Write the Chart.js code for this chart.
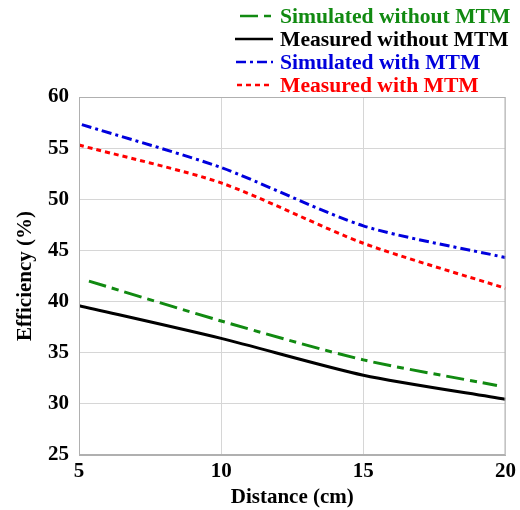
<!DOCTYPE html>
<html><head><meta charset="utf-8">
<script src="https://cdn.jsdelivr.net/npm/chart.js@4"></script>
<style>html,body{margin:0;padding:0;background:#fff}canvas{display:block}</style>
</head><body>
<canvas id="c" width="520" height="510"></canvas>
<script>
const seriesNames = ["Simulated without MTM","Measured without MTM","Simulated with MTM","Measured with MTM"];
const simNoX = [5.35, 10, 15, 19.7];
const simNoY = [42.0, 38.1, 34.3, 31.8];
const measNoX = [5, 10, 15, 20];
const measNoY = [39.6, 36.4, 32.8, 30.45];
const simMtmX = [5.1, 10, 15, 20];
const simMtmY = [57.3, 53.1, 47.4, 44.3];
const measMtmX = [5, 10, 15, 20];
const measMtmY = [55.3, 51.6, 45.7, 41.3];
const xTicks = [5, 10, 15, 20];
const yTicks = [25, 30, 35, 40, 45, 50, 55, 60];

const colors = ['#118a11', '#000000', '#0000dd', '#ff0000'];
const dashes = [[18,6,7,6], [], [10,4,3,4], [5,4]];
const FONT = '"Liberation Serif", "Times New Roman", serif';

function pts(xs, ys){ return xs.map((x,i)=>({x:x, y:ys[i]})); }
const xsAll = [simNoX, measNoX, simMtmX, measMtmX];
const ysAll = [simNoY, measNoY, simMtmY, measMtmY];

const legendPlugin = {
  id: 'customLegend',
  afterDraw(chart){
    const ctx = chart.ctx;
    ctx.save();
    ctx.font = 'bold 21.6px ' + FONT;
    ctx.textBaseline = 'middle';
    const rows = [16, 39, 62, 85];
    const lineStart = [240, 235, 236, 237];
    seriesNames.forEach((name, i) => {
      const y = rows[i];
      ctx.strokeStyle = colors[i];
      ctx.lineWidth = 2.5;
      ctx.setLineDash(dashes[i]);
      ctx.beginPath();
      ctx.moveTo(lineStart[i], y);
      ctx.lineTo(273, y);
      ctx.stroke();
      ctx.setLineDash([]);
      ctx.fillStyle = colors[i];
      ctx.textAlign = 'left';
      ctx.fillText(name, 280, y + 1);
    });
    ctx.restore();
  }
};

new Chart(document.getElementById('c'), {
  type: 'line',
  data: {
    datasets: seriesNames.map((name, i) => ({
      label: name,
      data: pts(xsAll[i], ysAll[i]),
      borderColor: colors[i],
      borderWidth: 3,
      borderDash: dashes[i],
      pointRadius: 0,
      tension: 0.25,
      fill: false
    }))
  },
  options: {
    responsive: false,
    animation: false,
    layout: { padding: { top: 97, right: 11, left: 13, bottom: 0 } },
    plugins: { legend: { display: false }, tooltip: { enabled: false } },
    scales: {
      x: {
        type: 'linear', min: 5, max: 20,
        afterBuildTicks(s){ s.ticks = xTicks.map(v => ({value: v})); },
        afterFit(s){ s.height = 55; },
        grid: { color: '#d6d6d6', lineWidth: 1, drawTicks: false },
        border: { color: '#b0b0b0' },
        ticks: { color: '#000', font: { family: FONT, size: 21, weight: 'bold' }, padding: 4, maxRotation: 0 },
        title: { display: true, text: 'Distance (cm)', color: '#000', font: { family: FONT, size: 21, weight: 'bold' }, padding: { top: -5, bottom: 0 } }
      },
      y: {
        type: 'linear', min: 25, max: 60,
        afterBuildTicks(s){ s.ticks = yTicks.map(v => ({value: v})); },
        afterFit(s){ s.width = 66; },
        grid: { color: '#d6d6d6', lineWidth: 1, drawTicks: false },
        border: { color: '#b0b0b0' },
        ticks: { color: '#000', font: { family: FONT, size: 21, weight: 'bold' }, padding: 10 },
        title: { display: true, text: 'Efficiency (%)', color: '#000', font: { family: FONT, size: 21, weight: 'bold' }, padding: { top: 0, bottom: 0 } }
      }
    }
  },
  plugins: [legendPlugin, {
    id: 'frame',
    afterDraw(chart){
      const a = chart.chartArea, ctx = chart.ctx;
      ctx.save();
      ctx.strokeStyle = '#b0b0b0'; ctx.lineWidth = 1;
      ctx.strokeRect(a.left + 0.5, a.top + 0.5, a.right - a.left - 1, a.bottom - a.top - 1);
      ctx.restore();
    }
  }]
});
</script>
</body></html>
